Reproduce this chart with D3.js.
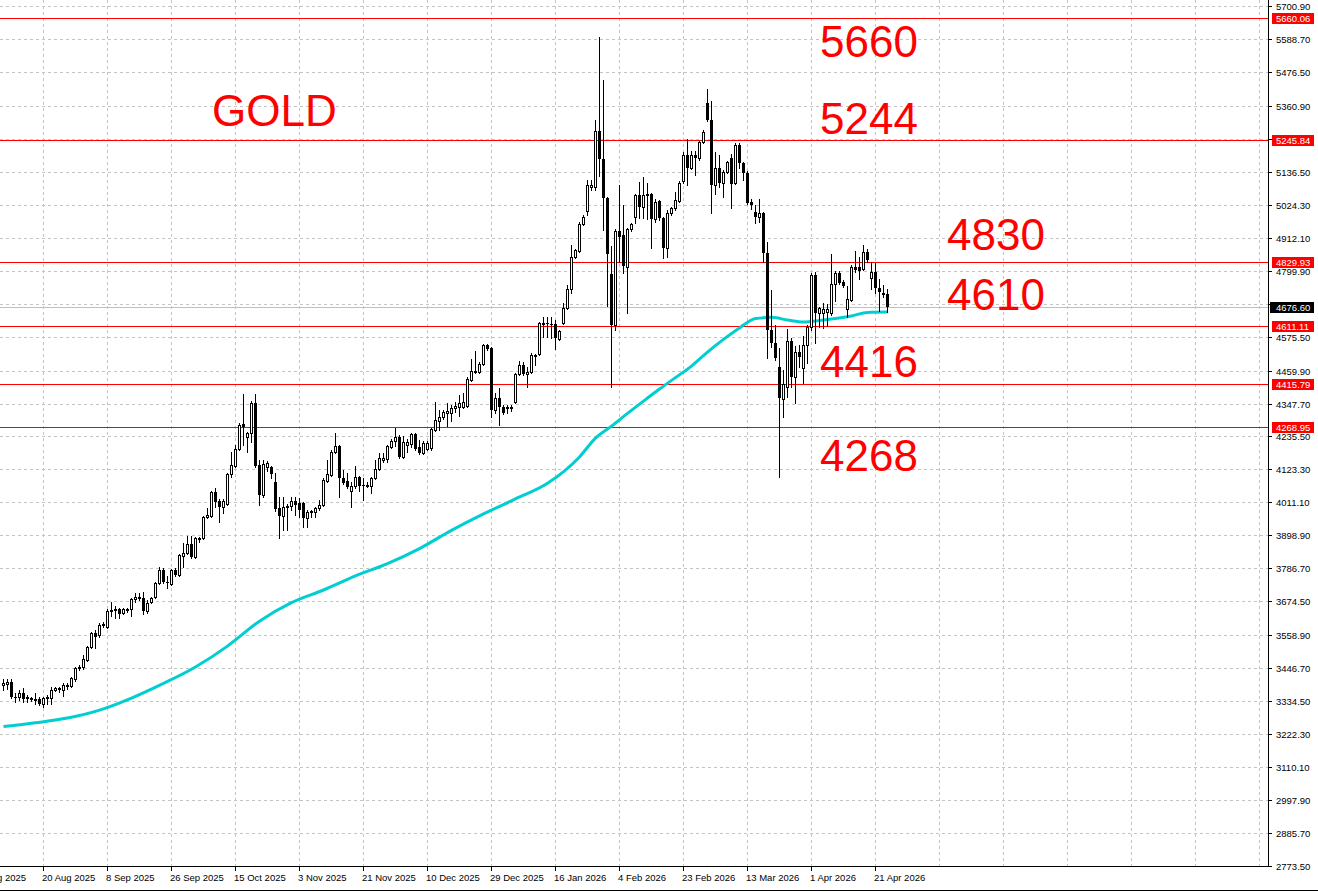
<!DOCTYPE html>
<html>
<head>
<meta charset="utf-8">
<script src="https://cdn.jsdelivr.net/npm/d3@7"></script>
<style>
body { margin: 0; background: #fff; }
svg { display: block; }
.ax { font-family: Tahoma, "Liberation Sans", Arial, sans-serif; font-size: 9.5px; }
.note { font-family: "Liberation Sans", Arial, sans-serif; font-size: 44px; fill: #ff0000; }
</style>
</head>
<body>
<svg id="chart"></svg>
<script>
// daily XAUUSD bars (bar 0 = 3 Aug 2025 area, bar 221 = 24 Apr 2026)
var opens = [3390,3393,3400,3349,3349,3362,3349,3345,3339,3342,
    3325,3345,3345,3373,3376,3373,3386,3386,3410,3447,
    3451,3475,3519,3567,3560,3594,3587,3642,3645,3648,
    3635,3645,3648,3682,3686,3686,3642,3672,3689,3737,
    3781,3740,3733,3781,3764,3829,3839,3870,3825,3887,
    3890,3961,3965,4047,4016,3996,4006,4108,4135,4193,
    4278,4234,4247,4350,4139,4036,4132,4132,4081,3992,
    3965,3996,3999,4016,4009,4009,3958,3978,3978,3992,
    4002,4084,4104,4183,4203,4094,4084,4050,4067,4098,
    4070,4067,4067,4094,4125,4155,4159,4200,4220,4234,
    4166,4207,4210,4244,4200,4179,4193,4196,4258,4288,
    4302,4315,4315,4332,4336,4336,4339,4428,4455,4455,
    4482,4547,4537,4326,4366,4336,4336,4336,4353,4448,
    4479,4448,4455,4510,4516,4618,4622,4618,4618,4567,
    4622,4673,4738,4847,4867,4959,5003,5085,5085,5275,
    5180,5047,4789,4615,4935,4921,4812,4942,4983,5058,
    5017,5058,5061,4976,5037,4979,4877,4996,5013,5037,
    5105,5194,5149,5194,5183,5238,5371,5313,5092,5149,
    5098,5136,5183,5098,5228,5166,5132,5034,5000,4983,
    4996,4860,4598,4554,4472,4363,4404,4561,4438,4523,
    4469,4547,4608,4785,4656,4656,4658,4656,4755,4792,
    4762,4669,4700,4812,4812,4806,4864,4775,4795,4741,
    4724,4721];
var highs = [3410,3410,3410,3362,3373,3379,3356,3349,3362,3349,
    3349,3356,3383,3383,3383,3396,3396,3417,3451,3458,
    3492,3522,3570,3577,3601,3604,3648,3672,3659,3652,
    3652,3652,3686,3703,3703,3706,3679,3689,3740,3791,
    3788,3761,3784,3788,3836,3873,3897,3897,3893,3893,
    3965,3992,4050,4060,4023,4023,4111,4183,4207,4281,
    4380,4251,4356,4380,4156,4156,4152,4135,4111,4030,
    4030,4006,4030,4030,4026,4012,3985,3985,3996,4019,
    4094,4155,4190,4247,4207,4121,4111,4081,4135,4101,
    4094,4081,4098,4155,4179,4179,4207,4227,4264,4241,
    4237,4227,4247,4247,4224,4220,4220,4264,4353,4326,
    4326,4350,4343,4353,4377,4384,4438,4499,4526,4489,
    4550,4550,4540,4384,4401,4343,4343,4343,4452,4492,
    4489,4472,4520,4516,4625,4642,4642,4642,4632,4598,
    4690,4751,4887,4874,4966,4989,5109,5109,5313,5595,
    5449,5051,4884,4942,5092,5023,4945,4962,5061,5102,
    5119,5098,5064,5044,5041,4983,5006,5017,5068,5105,
    5204,5248,5207,5207,5241,5279,5418,5377,5204,5194,
    5143,5173,5197,5234,5234,5170,5139,5044,5024,5044,
    5000,4898,4734,4615,4537,4462,4601,4571,4544,4547,
    4577,4615,4792,4795,4676,4690,4686,4857,4799,4799,
    4767,4748,4819,4867,4846,4887,4874,4829,4826,4772,
    4751,4738];
var lows = [3373,3376,3345,3332,3339,3332,3332,3335,3325,3322,
    3315,3325,3325,3369,3366,3352,3376,3383,3403,3441,
    3444,3471,3516,3516,3553,3587,3584,3625,3618,3618,
    3631,3638,3625,3672,3679,3631,3635,3669,3686,3733,
    3737,3720,3730,3761,3761,3791,3836,3822,3822,3876,
    3887,3958,3961,3996,3944,3975,4002,4098,4132,4190,
    4207,4183,4217,4132,4002,4030,4118,4094,3982,3890,
    3917,3917,3985,3968,3961,3927,3927,3961,3961,3985,
    3999,4081,4101,4179,4030,4074,4060,3996,4060,4050,
    4019,4063,4043,4091,4121,4149,4149,4196,4203,4162,
    4162,4183,4200,4190,4176,4176,4190,4190,4254,4258,
    4295,4271,4288,4319,4305,4332,4336,4424,4452,4452,
    4479,4530,4302,4315,4275,4312,4315,4322,4350,4445,
    4445,4404,4452,4479,4513,4574,4574,4571,4533,4564,
    4618,4669,4724,4843,4864,4955,4989,5075,5075,5122,
    4938,4680,4404,4598,4829,4792,4656,4935,4962,4980,
    4980,4976,4877,4966,4972,4843,4847,4989,5006,5034,
    5098,5092,5146,5126,5177,5234,5309,4996,5061,5085,
    5051,5132,5013,5095,5149,5109,5027,5010,4962,4966,
    4829,4503,4540,4496,4098,4302,4370,4404,4350,4472,
    4418,4486,4598,4554,4608,4605,4612,4649,4697,4755,
    4745,4642,4698,4795,4771,4802,4829,4738,4724,4663,
    4710,4659];
var closes = [3396,3400,3349,3345,3362,3342,3342,3339,3342,3325,
    3345,3349,3373,3379,3379,3390,3390,3413,3447,3451,
    3478,3519,3567,3553,3594,3597,3642,3645,3648,3631,
    3648,3648,3682,3689,3689,3642,3669,3686,3737,3781,
    3740,3737,3781,3764,3832,3839,3870,3825,3890,3890,
    3961,3968,4047,4013,3996,4016,4108,4139,4193,4275,
    4268,4247,4350,4135,4036,4142,4145,4108,3989,3965,
    3996,3999,4016,4002,3985,3958,3978,3982,3992,4002,
    4087,4108,4183,4203,4094,4077,4063,4067,4098,4067,
    4067,4070,4094,4125,4162,4162,4203,4220,4234,4166,
    4217,4217,4244,4193,4179,4213,4213,4261,4292,4302,
    4319,4322,4332,4339,4350,4353,4431,4458,4458,4482,
    4547,4533,4326,4366,4336,4315,4329,4329,4448,4479,
    4448,4455,4513,4513,4622,4622,4618,4615,4571,4594,
    4673,4738,4847,4870,4959,4983,5092,5092,5275,5180,
    5047,4857,4615,4935,4915,4816,4942,4959,5058,5017,
    5058,5061,4976,5034,4979,4877,4996,5013,5041,5098,
    5194,5149,5194,5183,5238,5272,5313,5092,5149,5098,
    5136,5170,5095,5228,5166,5132,5030,5024,4983,4996,
    4860,4598,4554,4503,4366,4414,4561,4438,4523,4506,
    4547,4608,4785,4656,4673,4669,4670,4755,4792,4758,
    4749,4704,4812,4802,4799,4864,4836,4795,4741,4727,
    4717,4676.6];

// moving average, read at these bars
var maBars = [0, 8, 16, 24, 32, 40, 48, 56, 64, 72, 80, 88, 96, 104, 112, 120, 128, 136, 144,
    148, 152, 156, 160, 164, 168, 172, 176, 180, 184, 188, 192, 196, 200, 204, 208, 212, 216, 221];
var maValues = [3248, 3261, 3277, 3304, 3345, 3395, 3451, 3522, 3607, 3670, 3713, 3761, 3803, 3854, 3916, 3972, 4023, 4076, 4166,
    4230, 4271, 4314, 4356, 4397, 4436, 4475, 4523, 4566, 4605, 4637, 4641, 4632, 4625, 4630, 4637, 4646, 4658, 4659];

var dateLabels = ["1 Aug 2025", "20 Aug 2025", "8 Sep 2025", "26 Sep 2025", "15 Oct 2025", "3 Nov 2025",
    "21 Nov 2025", "10 Dec 2025", "29 Dec 2025", "16 Jan 2026", "4 Feb 2026", "23 Feb 2026",
    "13 Mar 2026", "1 Apr 2026", "21 Apr 2026"];
var dateBars = [-6, 10, 26, 42, 58, 74, 90, 106, 122, 138, 154, 170, 186, 202, 218];

// grid levels; the ones hidden under a price tag get no text
var priceTicks = [5700.90, 5588.70, 5476.50, 5360.90, 5248.70, 5136.50, 5024.30, 4912.10, 4799.90, 4687.70,
    4575.50, 4459.90, 4347.70, 4235.50, 4123.30, 4011.10, 3898.90, 3786.70, 3674.50, 3558.90,
    3446.70, 3334.50, 3222.30, 3110.10, 2997.90, 2885.70, 2773.50];
var hiddenTicks = [5248.70, 4687.70];

var levels = [5660.06, 5245.84, 4829.93, 4611.11, 4415.79, 4268.95];
var lastPrice = 4676.60;

var noteTexts = ["GOLD", "5660", "5244", "4830", "4610", "4416", "4268"];
var noteBars = [52.25, 204.25, 204.25, 236, 236, 204.25, 204.25];
var notePrices = [5292, 5527, 5265, 4870, 4666, 4438, 4118];

var width = 1318, height = 892;
var plotR = 1268, plotB = 866;

var svg = d3.select("#chart")
    .attr("width", width)
    .attr("height", height)

var x = d3.scaleLinear().domain([-0.75, 316.25]).range([0, plotR]);
var y = d3.scaleLinear().domain([2773.5, 5700.9]).range([plotB, 6]);
var px = function (v) { return Math.round(v) + 0.5 };

// grid
var grid = svg.append("g")
    .attr("stroke", "#c4c4c4")
    .attr("stroke-dasharray", "3,3")
    .attr("shape-rendering", "crispEdges")
grid.selectAll("line.h")
    .data(priceTicks)
    .enter().append("line")
        .attr("class", "h")
        .attr("x1", 0).attr("x2", plotR)
        .attr("y1", d => px(y(d))).attr("y2", d => px(y(d)))
grid.selectAll("line.v")
    .data(d3.range(-6, 317, 16))
    .enter().append("line")
        .attr("class", "v")
        .attr("y1", 0).attr("y2", plotB)
        .attr("x1", d => px(x(d))).attr("x2", d => px(x(d)))

// level lines
svg.append("line")
    .attr("x1", 0).attr("x2", plotR)
    .attr("y1", px(y(lastPrice))).attr("y2", px(y(lastPrice)))
    .attr("stroke", "#c0c0c0")
    .attr("shape-rendering", "crispEdges")
svg.selectAll("line.level")
    .data(levels)
    .enter().append("line")
        .attr("class", "level")
        .attr("x1", 0).attr("x2", plotR)
        .attr("y1", d => px(y(d))).attr("y2", d => px(y(d)))
        .attr("stroke", "#ff0000")
        .attr("shape-rendering", "crispEdges")

// moving average
var maData = maBars.map((b, k) => ({ b: b, v: maValues[k] }))
svg.append("path")
    .datum(maData)
    .attr("d", d3.line().x(d => x(d.b) + 0.5).y(d => y(d.v)).curve(d3.curveMonotoneX))
    .attr("fill", "none")
    .attr("stroke", "#00ced1")
    .attr("stroke-width", 3)

// candles
var bars = opens.map((o, i) => ({ i: i, o: o, h: highs[i], l: lows[i], c: closes[i] }))
var cg = svg.append("g").attr("shape-rendering", "crispEdges")
var candle = cg.selectAll("g")
    .data(bars)
    .enter().append("g")
candle.append("line")
    .attr("x1", d => Math.round(x(d.i)) + 0.5)
    .attr("x2", d => Math.round(x(d.i)) + 0.5)
    .attr("y1", d => Math.round(y(d.h)))
    .attr("y2", d => Math.round(y(d.l)) + 1)
    .attr("stroke", "#000")
candle.append("rect")
    .attr("x", d => Math.round(x(d.i)) - (d.c >= d.o ? 0.5 : 1))
    .attr("width", d => d.c >= d.o ? 2 : 3)
    .attr("y", function (d) {
        var t = Math.round(y(Math.max(d.o, d.c)))
        return d.c >= d.o ? t + 0.5 : t
    })
    .attr("height", function (d) {
        var t = Math.round(y(Math.max(d.o, d.c))), b = Math.round(y(Math.min(d.o, d.c)))
        return Math.max(b - t, 1)
    })
    .attr("fill", d => d.c >= d.o ? "#fff" : "#000")
    .attr("stroke", d => d.c >= d.o ? "#000" : "none")

// axes frame
svg.append("line")
    .attr("x1", plotR + 0.5).attr("x2", plotR + 0.5)
    .attr("y1", 0).attr("y2", plotB + 1)
    .attr("stroke", "#000")
svg.append("line")
    .attr("x1", 0).attr("x2", plotR + 1)
    .attr("y1", plotB + 0.5).attr("y2", plotB + 0.5)
    .attr("stroke", "#000")
svg.append("line")
    .attr("x1", 0).attr("x2", width)
    .attr("y1", height - 1.5).attr("y2", height - 1.5)
    .attr("stroke", "#000")

// price axis
var pa = svg.append("g").attr("class", "ax")
pa.selectAll("line")
    .data(priceTicks)
    .enter().append("line")
        .attr("x1", plotR).attr("x2", plotR + 4)
        .attr("y1", d => px(y(d))).attr("y2", d => px(y(d)))
        .attr("stroke", "#000")
        .attr("shape-rendering", "crispEdges")
pa.selectAll("text")
    .data(priceTicks.filter(d => hiddenTicks.indexOf(d) < 0))
    .enter().append("text")
        .attr("x", plotR + 8)
        .attr("y", d => Math.round(y(d)) + 4)
        .text(d => d.toFixed(2))

var tags = svg.append("g").attr("class", "ax")
levels.forEach(function (v) {
    var yy = Math.round(y(v))
    tags.append("rect").attr("x", plotR + 4).attr("y", yy - 5).attr("width", 42).attr("height", 11).attr("fill", "#ff0000")
    tags.append("text").attr("x", plotR + 8).attr("y", yy + 4).attr("fill", "#fff").text(v.toFixed(2))
})
var ly = Math.round(y(lastPrice))
tags.append("rect").attr("x", plotR + 2).attr("y", ly - 5).attr("width", 44).attr("height", 11).attr("fill", "#000")
tags.append("text").attr("x", plotR + 8).attr("y", ly + 4).attr("fill", "#fff").text(lastPrice.toFixed(2))

// time axis
var ta = svg.append("g").attr("class", "ax")
ta.selectAll("line")
    .data(dateBars)
    .enter().append("line")
        .attr("x1", d => px(x(d))).attr("x2", d => px(x(d)))
        .attr("y1", plotB).attr("y2", plotB + 5)
        .attr("stroke", "#000")
        .attr("shape-rendering", "crispEdges")
ta.selectAll("text")
    .data(dateLabels)
    .enter().append("text")
        .attr("x", (d, k) => Math.round(x(dateBars[k])) - 1)
        .attr("y", 881)
        .text(d => d)

// red notes
svg.selectAll("text.note")
    .data(noteTexts)
    .enter().append("text")
        .attr("class", "note")
        .attr("x", (d, k) => x(noteBars[k]))
        .attr("y", (d, k) => y(notePrices[k]))
        .text(d => d)
</script>
</body>
</html>
